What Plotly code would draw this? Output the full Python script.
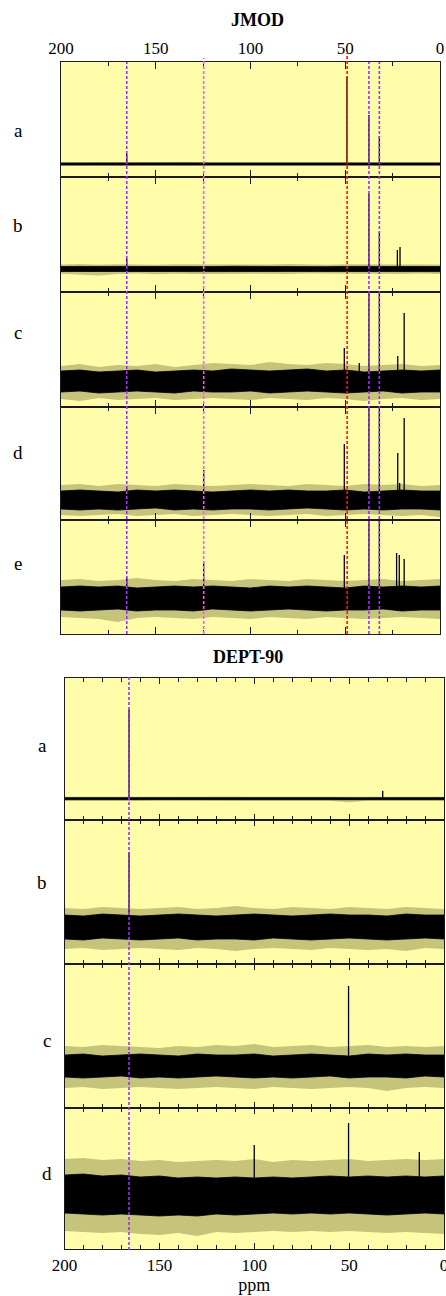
import plotly.graph_objects as go

W, H = 446, 1296

# ---------------- data ----------------
grid_ppm = [200, 190, 180, 170, 160, 150, 140, 130, 120, 110, 100,
            90, 80, 70, 60, 50, 40, 30, 20, 10, 0]

# JMOD, spectrum a
jmod_a_peak_ppm = [165.3, 49.1, 37.5, 32.0]
jmod_a_peak_int = [10, 87, 49, 28]
jmod_a_core_hi = [1.0, 1.1, 0.9, 1.0, 1.2, 1.0, 0.9, 1.1, 1.0, 1.0, 0.9, 1.1, 1.0, 1.2, 1.0, 0.9, 1.1, 1.0, 1.0, 1.1, 1.0]
jmod_a_core_lo = [-1.0, -0.9, -1.1, -1.0, -1.0, -1.1, -0.9, -1.0, -1.2, -1.0, -1.0, -0.9, -1.1, -1.0, -1.0, -1.1, -1.0, -0.9, -1.1, -1.0, -1.0]
jmod_a_fringe_hi = [1.8, 1.9, 1.7, 1.8, 2.0, 1.8, 1.7, 1.9, 1.8, 1.8, 1.7, 1.9, 1.8, 2.0, 1.8, 1.7, 1.9, 1.8, 1.8, 1.9, 1.8]
jmod_a_fringe_lo = [-1.8, -1.7, -1.9, -2.2, -1.8, -1.9, -1.7, -1.8, -2.0, -1.8, -1.8, -1.7, -1.9, -1.8, -1.8, -1.9, -1.8, -1.7, -1.9, -1.8, -1.8]

# JMOD, spectrum b
jmod_b_peak_ppm = [165.3, 37.5, 32.0, 22.5, 21.1]
jmod_b_peak_int = [11, 75, 37, 19, 22]
jmod_b_core_hi = [2.5, 2.7, 2.4, 2.6, 2.5, 2.3, 2.6, 2.5, 2.4, 2.7, 2.5, 2.4, 2.6, 2.5, 2.3, 2.6, 2.5, 2.7, 2.4, 2.6, 2.5]
jmod_b_core_lo = [-2.5, -2.4, -2.7, -2.5, -2.6, -2.4, -2.5, -2.6, -2.4, -2.5, -2.7, -2.5, -2.4, -2.6, -2.5, -2.4, -2.6, -2.5, -2.7, -2.5, -2.6]
jmod_b_fringe_hi = [4.5, 5.0, 4.3, 4.8, 4.5, 4.2, 4.7, 4.6, 4.3, 4.8, 4.5, 4.4, 4.9, 4.5, 4.3, 4.7, 4.6, 4.8, 4.4, 4.7, 4.6]
jmod_b_fringe_lo = [-4.8, -5.5, -6.5, -5.0, -4.6, -5.2, -4.8, -4.9, -4.6, -5.0, -4.7, -4.8, -5.1, -4.6, -4.9, -5.0, -4.7, -4.8, -5.0, -4.6, -5.1]

# JMOD, spectrum c
jmod_c_peak_ppm = [50.5, 42.6, 37.5, 32.0, 22.3, 18.9]
jmod_c_peak_int = [34, 19, 120, 120, 26, 69]
jmod_c_core_hi = [11, 12, 10, 11, 12, 10, 11, 12, 11, 13, 12, 11, 12, 13, 11, 12, 10, 11, 12, 11, 12]
jmod_c_core_lo = [-10, -9, -11, -10, -9, -10, -11, -9, -10, -10, -9, -11, -10, -9, -10, -11, -10, -9, -11, -10, -10]
jmod_c_fringe_hi = [16, 18, 15, 17, 16, 18, 15, 17, 19, 18, 17, 20, 18, 17, 19, 18, 16, 17, 18, 16, 17]
jmod_c_fringe_lo = [-17, -19, -16, -18, -17, -16, -18, -17, -16, -17, -18, -16, -17, -18, -16, -17, -19, -17, -16, -18, -17]

# JMOD, spectrum d
jmod_d_peak_ppm = [165.3, 124.7, 50.5, 37.5, 32.0, 22.3, 21.3, 18.9]
jmod_d_peak_int = [13, 30, 56, 120, 120, 47, 17, 82]
jmod_d_core_hi = [9, 10, 9, 8, 10, 9, 10, 9, 8, 9, 10, 9, 10, 9, 9, 10, 8, 9, 10, 9, 9]
jmod_d_core_lo = [-9, -10, -9, -10, -9, -8, -10, -9, -10, -9, -9, -10, -9, -8, -9, -10, -9, -10, -9, -9, -10]
jmod_d_fringe_hi = [15, 16, 14, 16, 15, 14, 16, 15, 14, 15, 16, 15, 14, 16, 15, 14, 16, 15, 16, 14, 15]
jmod_d_fringe_lo = [-15, -16, -15, -14, -16, -15, -14, -16, -15, -14, -15, -16, -15, -14, -16, -15, -14, -15, -16, -15, -17]

# JMOD, spectrum e
jmod_e_peak_ppm = [165.3, 124.7, 50.5, 37.5, 32.0, 22.9, 21.5, 18.9]
jmod_e_peak_int = [21, 36, 43, 120, 120, 45, 43, 39]
jmod_e_core_hi = [11, 12, 11, 12, 10, 11, 12, 11, 12, 11, 10, 12, 11, 12, 11, 10, 12, 11, 12, 11, 12]
jmod_e_core_lo = [-12, -13, -12, -11, -13, -12, -12, -13, -11, -12, -13, -12, -11, -12, -13, -12, -12, -11, -13, -12, -12]
jmod_e_fringe_hi = [18, 19, 17, 18, 20, 18, 17, 19, 18, 17, 19, 18, 17, 19, 18, 17, 18, 19, 17, 18, 19]
jmod_e_fringe_lo = [-19, -20, -21, -24, -20, -19, -20, -21, -19, -20, -21, -19, -20, -21, -19, -20, -21, -20, -19, -20, -21]

# DEPT-90, spectrum a
dept_a_peak_ppm = [166.0, 32.3]
dept_a_peak_int = [89, 8]
dept_a_core_hi = [1.0, 0.9, 1.1, 1.0, 1.0, 0.9, 1.1, 1.0, 1.0, 1.1, 0.9, 1.0, 1.0, 1.1, 1.0, 0.9, 1.0, 1.1, 1.0, 0.9, 1.0]
dept_a_core_lo = [-1.0, -1.1, -0.9, -1.0, -1.0, -1.1, -1.0, -0.9, -1.0, -1.0, -1.1, -1.0, -0.9, -1.0, -1.1, -1.0, -1.0, -0.9, -1.1, -1.0, -1.0]
dept_a_fringe_hi = [2.0, 1.8, 2.1, 2.0, 1.9, 2.0, 2.2, 1.9, 2.0, 2.1, 1.9, 2.0, 2.1, 1.9, 2.0, 2.2, 2.4, 2.1, 2.0, 1.9, 2.0]
dept_a_fringe_lo = [-2.0, -2.1, -1.9, -2.0, -2.1, -1.9, -2.0, -2.1, -1.9, -2.0, -2.0, -2.1, -1.9, -2.0, -2.1, -3.5, -2.0, -2.2, -1.9, -2.0, -2.1]

# DEPT-90, spectrum b
dept_b_peak_ppm = [166.0]
dept_b_peak_int = [75]
dept_b_core_hi = [12, 11, 13, 12, 11, 12, 13, 12, 11, 12, 13, 12, 11, 12, 13, 12, 12, 11, 13, 12, 12]
dept_b_core_lo = [-12, -13, -11, -12, -13, -12, -11, -13, -12, -12, -13, -11, -12, -13, -12, -11, -12, -13, -12, -11, -12]
dept_b_fringe_hi = [19, 18, 20, 19, 18, 19, 20, 18, 19, 21, 19, 18, 20, 19, 18, 20, 19, 18, 20, 19, 18]
dept_b_fringe_lo = [-22, -21, -23, -22, -21, -22, -23, -21, -22, -24, -22, -21, -22, -23, -21, -22, -23, -22, -24, -21, -22]

# DEPT-90, spectrum c
dept_c_peak_ppm = [166.0, 50.3]
dept_c_peak_int = [14, 80]
dept_c_core_hi = [11, 12, 10, 11, 12, 11, 10, 12, 11, 11, 12, 10, 11, 12, 11, 10, 12, 11, 12, 11, 11]
dept_c_core_lo = [-11, -12, -11, -10, -12, -11, -12, -11, -10, -11, -12, -11, -12, -11, -10, -12, -11, -11, -12, -10, -11]
dept_c_fringe_hi = [20, 19, 21, 20, 19, 18, 20, 19, 21, 20, 22, 19, 20, 21, 19, 20, 21, 19, 20, 19, 20]
dept_c_fringe_lo = [-22, -21, -23, -22, -21, -22, -23, -22, -21, -22, -23, -21, -22, -23, -22, -21, -22, -25, -22, -21, -22]

# DEPT-90, spectrum d
dept_d_peak_ppm = [100.0, 50.3, 13.0]
dept_d_peak_int = [50, 72, 43]
dept_d_core_hi = [20, 21, 19, 20, 18, 19, 17, 18, 17, 18, 17, 18, 17, 18, 19, 18, 19, 18, 19, 18, 19]
dept_d_core_lo = [-18, -19, -20, -19, -20, -21, -20, -21, -19, -20, -19, -18, -19, -18, -19, -18, -19, -20, -19, -18, -19]
dept_d_fringe_hi = [36, 37, 35, 36, 34, 35, 33, 34, 35, 34, 36, 33, 35, 34, 35, 36, 34, 35, 36, 35, 36]
dept_d_fringe_lo = [-36, -37, -38, -37, -39, -40, -38, -41, -37, -38, -37, -36, -37, -36, -37, -36, -37, -38, -37, -38, -39]

jmod_marker_ppm = [165.3, 124.7, 49.0, 37.5, 32.0]
dept_marker_ppm = [166.0]

panel_letters = ["a", "b", "c", "d", "e", "a", "b", "c", "d"]
axis_tick_labels = ["200", "150", "100", "50", "0"]
axis_tick_vals = [200, 150, 100, 50, 0]

# ---------------- layout constants ----------------
BG = "#FFFDAA"
FONT = "Liberation Serif, Times New Roman, serif"
LINE = "#1a1a1a"

# (top px, bottom px, y-range low, y-range high, x0 px, x1 px, minor dtick)
panels = [
    (62, 177, -13, 102, 61, 440, 25),
    (177, 292, -23, 92, 61, 440, 25),
    (292, 407, -25, 90, 61, 440, 25),
    (407, 520, -20, 93, 61, 440, 25),
    (520, 634, -36, 78, 61, 440, 25),
    (678, 820, -21.3, 120.7, 64.5, 444, 10),
    (820, 964, -37, 107, 64.5, 444, 10),
    (964, 1108, -42, 102, 64.5, 444, 10),
    (1108, 1249, -54, 87, 64.5, 444, 10),
]
letter_pos = [(18, 130), (18, 225), (18, 333), (18, 453), (18, 563),
              (42, 745), (42, 882), (47, 1040), (47, 1173)]

spectra = [
    (jmod_a_peak_ppm, jmod_a_peak_int, jmod_a_core_hi, jmod_a_core_lo, jmod_a_fringe_hi, jmod_a_fringe_lo),
    (jmod_b_peak_ppm, jmod_b_peak_int, jmod_b_core_hi, jmod_b_core_lo, jmod_b_fringe_hi, jmod_b_fringe_lo),
    (jmod_c_peak_ppm, jmod_c_peak_int, jmod_c_core_hi, jmod_c_core_lo, jmod_c_fringe_hi, jmod_c_fringe_lo),
    (jmod_d_peak_ppm, jmod_d_peak_int, jmod_d_core_hi, jmod_d_core_lo, jmod_d_fringe_hi, jmod_d_fringe_lo),
    (jmod_e_peak_ppm, jmod_e_peak_int, jmod_e_core_hi, jmod_e_core_lo, jmod_e_fringe_hi, jmod_e_fringe_lo),
    (dept_a_peak_ppm, dept_a_peak_int, dept_a_core_hi, dept_a_core_lo, dept_a_fringe_hi, dept_a_fringe_lo),
    (dept_b_peak_ppm, dept_b_peak_int, dept_b_core_hi, dept_b_core_lo, dept_b_fringe_hi, dept_b_fringe_lo),
    (dept_c_peak_ppm, dept_c_peak_int, dept_c_core_hi, dept_c_core_lo, dept_c_fringe_hi, dept_c_fringe_lo),
    (dept_d_peak_ppm, dept_d_peak_int, dept_d_core_hi, dept_d_core_lo, dept_d_fringe_hi, dept_d_fringe_lo),
]


def py(px):
    return 1 - px / H


fig = go.Figure()
layout = dict(
    width=W, height=H, margin=dict(l=0, r=0, t=0, b=0, autoexpand=False),
    paper_bgcolor="white", plot_bgcolor=BG, showlegend=False,
    font=dict(family=FONT, color="black", size=17),
)

for i, (spec, pan) in enumerate(zip(spectra, panels)):
    n = i + 1
    xref, yref = f"x{n}", f"y{n}"
    pk_ppm, pk_int, c_hi, c_lo, f_hi, f_lo = spec
    # outer noise fringe
    fig.add_trace(go.Scatter(
        x=grid_ppm + grid_ppm[::-1], y=f_hi + f_lo[::-1], fill="toself",
        fillcolor="rgba(50,50,0,0.28)", line=dict(width=0), mode="lines",
        hoverinfo="skip", xaxis=xref, yaxis=yref))
    # dense noise core
    fig.add_trace(go.Scatter(
        x=grid_ppm + grid_ppm[::-1], y=c_hi + c_lo[::-1], fill="toself",
        fillcolor="black", line=dict(width=0.8, color="black"), mode="lines",
        hoverinfo="skip", xaxis=xref, yaxis=yref))
    # peaks
    px_, py_ = [], []
    for p, h in zip(pk_ppm, pk_int):
        px_ += [p, p, None]
        py_ += [0, h, None]
    fig.add_trace(go.Scatter(
        x=px_, y=py_, mode="lines", line=dict(color="black", width=1.3),
        xaxis=xref, yaxis=yref, hoverinfo="skip"))

    top, bot, ylo, yhi, x0, x1, mdt = pan
    is_first = n == 1
    is_last = n == len(panels)
    xa = dict(
        domain=[x0 / W, x1 / W], range=[200, 0], anchor=yref, automargin=False,
        showline=True, linecolor=LINE, linewidth=1.4, mirror="ticks",
        ticks="inside", ticklen=7 if n <= 5 else 6, tickwidth=1.3, tickcolor=LINE,
        tickmode="array", tickvals=axis_tick_vals, ticktext=axis_tick_labels,
        ticklabeloverflow="allow",
        minor=dict(dtick=mdt, tick0=0, ticks="inside", ticklen=4, tickwidth=1,
                   tickcolor=LINE, showgrid=False),
        showgrid=False, zeroline=False,
        showticklabels=is_first or is_last,
        side="top" if is_first else "bottom",
        tickfont=dict(family=FONT, size=17, color="black"),
    )
    if is_last:
        xa["title"] = dict(text="ppm", font=dict(family=FONT, size=18), standoff=2)
    ya = dict(
        domain=[py(bot), py(top)], range=[ylo, yhi], anchor=xref, automargin=False,
        showline=True, linecolor=LINE, linewidth=1.4, mirror=True,
        ticks="", showticklabels=False, showgrid=False, zeroline=False,
    )
    layout["xaxis" if n == 1 else f"xaxis{n}"] = xa
    layout["yaxis" if n == 1 else f"yaxis{n}"] = ya

shapes = []
jmod_colors = ["#9B30FF", "#FF55FF", "#FF1010", "#9B30FF", "#9B30FF"]
jmod_tops = [62, 58, 53, 62, 62]
for p, c, t in zip(jmod_marker_ppm, jmod_colors, jmod_tops):
    shapes.append(dict(type="line", xref="x", yref="paper", x0=p, x1=p,
                       y0=py(634), y1=py(t),
                       line=dict(color=c, width=1.6, dash="3px,2px")))
for p in dept_marker_ppm:
    shapes.append(dict(type="line", xref="x6", yref="paper", x0=p, x1=p,
                       y0=py(1250), y1=py(677),
                       line=dict(color="#9B30FF", width=1.6, dash="3px,2px")))
layout["shapes"] = shapes

annotations = []
for lab, (lx, ly) in zip(panel_letters, letter_pos):
    annotations.append(dict(text=lab, x=lx / W, y=py(ly), xref="paper", yref="paper",
                            showarrow=False, xanchor="center", yanchor="middle",
                            font=dict(family=FONT, size=19, color="black")))
annotations.append(dict(text="<b>JMOD</b>", x=257 / W, y=py(20), xref="paper", yref="paper",
                        showarrow=False, xanchor="center", yanchor="middle",
                        font=dict(family=FONT, size=18, color="black")))
annotations.append(dict(text="<b>DEPT-90</b>", x=248 / W, y=py(657), xref="paper", yref="paper",
                        showarrow=False, xanchor="center", yanchor="middle",
                        font=dict(family=FONT, size=18, color="black")))
layout["annotations"] = annotations

fig.update_layout(**layout)
fig.write_html("out.html")
